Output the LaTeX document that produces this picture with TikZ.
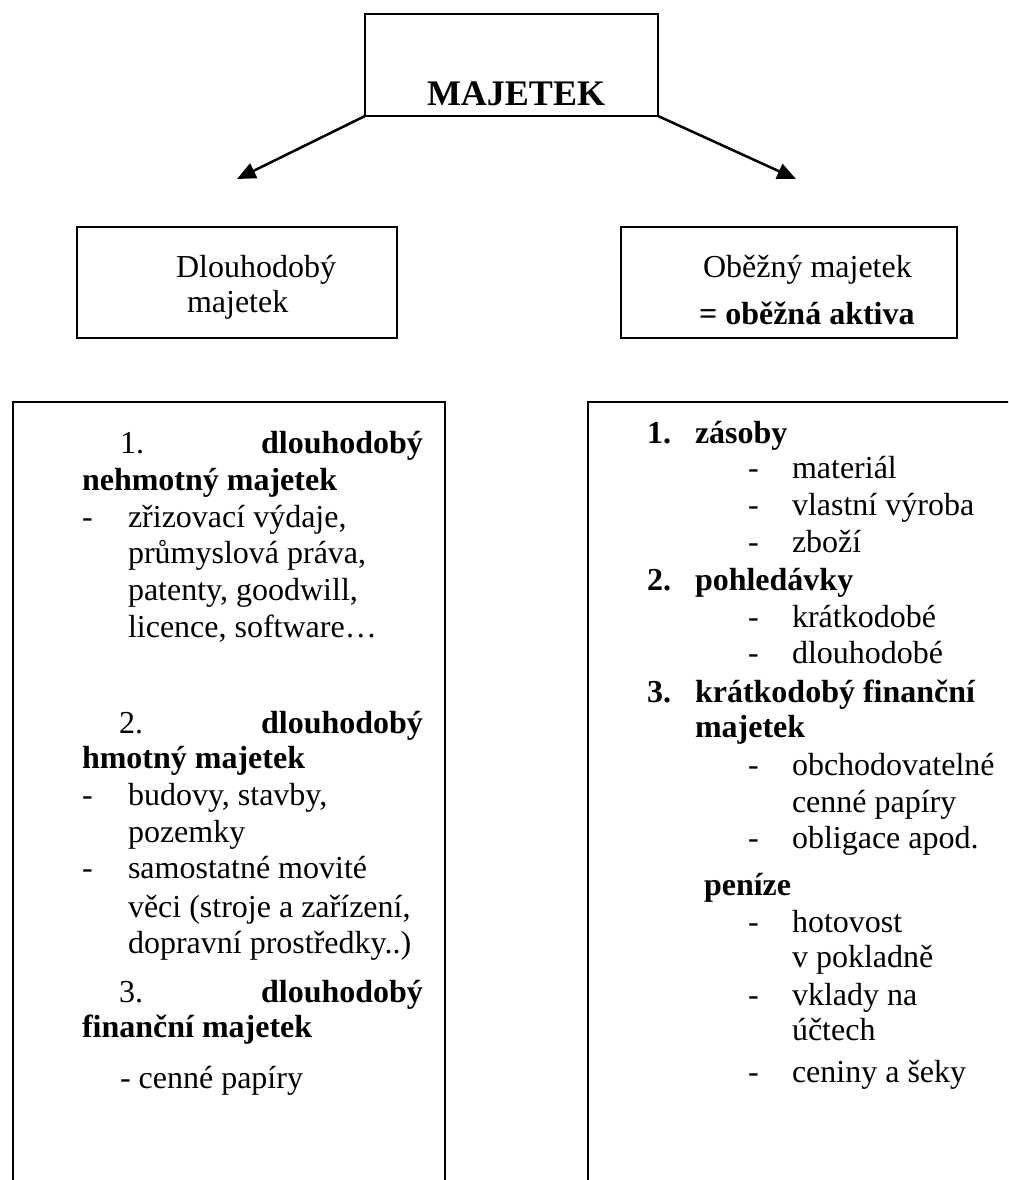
\documentclass[tikz,border=0pt]{standalone}
\usepackage{fontspec}
\setmainfont{Liberation Serif}
\usetikzlibrary{arrows.meta}
\tikzset{
  tx/.style={anchor=base west, inner sep=0pt, outer sep=0pt, font=\fontsize{24}{28}\selectfont},
  tb/.style={anchor=base west, inner sep=0pt, outer sep=0pt, font=\fontsize{24}{28}\selectfont\bfseries},
  frame/.style={draw, line width=1.1pt},
  boxnode/.style={draw, line width=1.1pt, inner sep=0pt, outer sep=0pt},
  arr/.style={line width=1.9pt, -{Triangle[length=14pt,width=12pt]}},
}
\begin{document}
\begin{tikzpicture}[x=0.75pt,y=-0.75pt]
\useasboundingbox (0,0) rectangle (1008,1180);
\clip (0,0) rectangle (1008,1180);

% top box
\node[boxnode, minimum width=219.75pt, minimum height=76.5pt] (root) at (511.5,65) {};
\node[anchor=base, inner sep=0pt, font=\fontsize{27}{30}\selectfont\bfseries] (rootlbl) at (516,106) {MAJETEK};

% arrows
\coordinate (tipL) at (237,179);
\coordinate (tipR) at (796,179);
\draw[arr] (root.south west) -- (tipL);
\draw[arr] (root.south east) -- (tipR);

% middle boxes
\node[boxnode, minimum width=240pt, minimum height=83.25pt] (dlbox) at (237,282.5) {};
\node[tx] (dl1) at (176,278) {Dlouhodobý};
\node[tx] (dl2) at (187,313) {majetek};

\node[boxnode, minimum width=252pt, minimum height=83.25pt] (obbox) at (789,282.5) {};
\node[tx] (ob1) at (703,278) {Oběžný majetek};
\node[tb] (ob2) at (699,325) {= oběžná aktiva};

% big open boxes
\draw[frame] (13,1200) -- (13,402) -- (445,402) -- (445,1200);
\draw[frame] (588,1200) -- (588,402) -- (1020,402);

% left content
\node[tx] (l1n) at (120,453) {1.};
\node[tb, anchor=base east] (l1a) at (423,453) {dlouhodobý};
\node[tb] (l1b) at (82,490) {nehmotný majetek};
\node[tx] (l1d) at (82,527) {-};
\node[tx] (l1c) at (128,527) {zřizovací výdaje,};
\node[tx] (l1e) at (128,563) {průmyslová práva,};
\node[tx] (l1f) at (128,600) {patenty, goodwill,};
\node[tx] (l1g) at (128,637) {licence, software…};

\node[tx] (l2n) at (119,733) {2.};
\node[tb, anchor=base east] (l2a) at (423,733) {dlouhodobý};
\node[tb] (l2b) at (82,768) {hmotný majetek};
\node[tx] (l2d) at (82,805) {-};
\node[tx] (l2c) at (128,805) {budovy, stavby,};
\node[tx] (l2e) at (128,842) {pozemky};
\node[tx] (l2g) at (82,878) {-};
\node[tx] (l2f) at (128,878) {samostatné movité};
\node[tx] (l2h) at (128,917) {věci (stroje a zařízení,};
\node[tx] (l2i) at (128,953) {dopravní prostředky..)};

\node[tx] (l3n) at (119,1002) {3.};
\node[tb, anchor=base east] (l3a) at (423,1002) {dlouhodobý};
\node[tb] (l3b) at (82,1037) {finanční majetek};
\node[tx] (l3c) at (120,1088) {- cenné papíry};

% right content
\node[tb] (r1n) at (647,443) {1.};
\node[tb] (r1a) at (695,443) {zásoby};
\node[tx] (r1d1) at (748,478) {-};
\node[tx] (r1b) at (792,478) {materiál};
\node[tx] (r1d2) at (748,515) {-};
\node[tx] (r1c) at (792,515) {vlastní výroba};
\node[tx] (r1d3) at (748,552) {-};
\node[tx] (r1e) at (792,552) {zboží};

\node[tb] (r2n) at (647,590) {2.};
\node[tb] (r2a) at (695,590) {pohledávky};
\node[tx] (r2d1) at (748,627) {-};
\node[tx] (r2b) at (792,627) {krátkodobé};
\node[tx] (r2d2) at (748,663) {-};
\node[tx] (r2c) at (792,663) {dlouhodobé};

\node[tb] (r3n) at (647,702) {3.};
\node[tb] (r3a) at (695,702) {krátkodobý finanční};
\node[tb] (r3b) at (695,737) {majetek};
\node[tx] (r3d1) at (748,775) {-};
\node[tx] (r3c) at (792,775) {obchodovatelné};
\node[tx] (r3e) at (792,812) {cenné papíry};
\node[tx] (r3d2) at (748,848) {-};
\node[tx] (r3f) at (792,848) {obligace apod.};

\node[tb] (r4a) at (704,895) {peníze};
\node[tx] (r4d1) at (748,932) {-};
\node[tx] (r4b) at (792,932) {hotovost};
\node[tx] (r4c) at (792,967) {v pokladně};
\node[tx] (r4d2) at (748,1005) {-};
\node[tx] (r4e) at (792,1005) {vklady na};
\node[tx] (r4f) at (792,1040) {účtech};
\node[tx] (r4d3) at (748,1082) {-};
\node[tx] (r4g) at (792,1082) {ceniny a šeky};
\end{tikzpicture}
\end{document}
